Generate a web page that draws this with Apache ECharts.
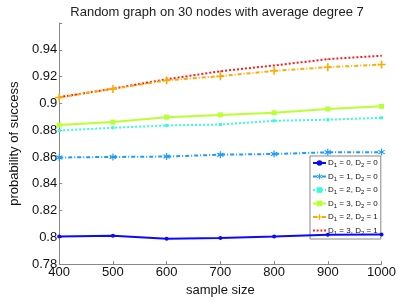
<!DOCTYPE html>
<html><head><meta charset="utf-8">
<script src="https://cdn.jsdelivr.net/npm/echarts@6/dist/echarts.min.js"></script>
<style>html,body{margin:0;padding:0;background:#fff}#c{width:399px;height:302px}</style>
</head><body><div id="c"></div>
<script>
const sampleSizes = [400, 500, 600, 700, 800, 900, 1000];
const yTicks = [0.78, 0.8, 0.82, 0.84, 0.86, 0.88, 0.9, 0.92, 0.94];
const d10d20 = [0.8006, 0.8011, 0.7990, 0.7994, 0.8006, 0.8020, 0.8021];
const d11d20 = [0.8596, 0.8600, 0.8603, 0.8617, 0.8622, 0.8635, 0.8636];
const d12d20 = [0.8797, 0.8818, 0.8835, 0.8842, 0.8870, 0.8878, 0.8892];
const d13d20 = [0.8838, 0.8860, 0.8897, 0.8914, 0.8930, 0.8958, 0.8978];
const d12d21 = [0.9044, 0.9108, 0.9172, 0.9203, 0.9243, 0.9270, 0.9290];
const d13d21 = [0.9046, 0.9110, 0.9180, 0.9240, 0.9283, 0.9330, 0.9356];
const names = ['D{s|1} = 0, D{s|2} = 0','D{s|1} = 1, D{s|2} = 0','D{s|1} = 2, D{s|2} = 0','D{s|1} = 3, D{s|2} = 0','D{s|1} = 2, D{s|2} = 1','D{s|1} = 3, D{s|2} = 1'];
const seriesData = [d10d20, d11d20, d12d20, d13d20, d12d21, d13d21];
const plus = 'path://M-1,-5 L1,-5 L1,-1 L5,-1 L5,1 L1,1 L1,5 L-1,5 L-1,1 L-5,1 L-5,-1 L-1,-1 Z';
const star = 'path://M-0.8,-5 L0.8,-5 L0.8,-1.4 L4,-3.2 L4.8,-1.8 L1.6,0 L4.8,1.8 L4,3.2 L0.8,1.4 L0.8,5 L-0.8,5 L-0.8,1.4 L-4,3.2 L-4.8,1.8 L-1.6,0 L-4.8,-1.8 L-4,-3.2 L-0.8,-1.4 Z';
const dots = 'path://M0,0 L2,0 L2,2 L0,2 Z M4,0 L6,0 L6,2 L4,2 Z M8,0 L10,0 L10,2 L8,2 Z M12,0 L14,0 L14,2 L12,2 Z';
const styles = [
  {color:'#0a0aff', type:'solid', symbol:'circle', size:4},
  {color:'#1e9bff', type:[4,2,1,2], symbol:star, size:7},
  {color:'#33ffd6', type:[2,2], symbol:'rect', size:3},
  {color:'#b8ff33', type:'solid', symbol:'rect', size:5},
  {color:'#ffaa00', type:[4,2,1,2], symbol:plus, size:8},
  {color:'#ff1a1a', type:[2,2], symbol:'rect', size:1}
];
const font = 'Liberation Sans';
const chart = echarts.init(document.getElementById('c'), null, {renderer:'canvas'});
chart.setOption({
  animation:false,
  title:{text:'Random graph on 30 nodes with average degree 7', left:212, textAlign:'center', top:1,
    textStyle:{fontFamily:font, fontSize:13, fontWeight:'normal', color:'#222'}},
  grid:{left:41, right:16, top:23, bottom:34.5},
  xAxis:{type:'value', min:400, max:1000, interval:100, name:'sample size', nameLocation:'middle', nameGap:16,
    nameTextStyle:{fontFamily:font, fontSize:13, color:'#111'},
    axisLine:{lineStyle:{color:'#888', width:1}}, axisTick:{inside:true, length:3, lineStyle:{color:'#888'}},
    axisLabel:{fontFamily:font, fontSize:13, color:'#111', margin:2, formatter:v=>String(v)}, splitLine:{show:false}},
  yAxis:{type:'value', min:0.78, max:0.96, interval:0.02, name:'probability of success', nameLocation:'middle', nameGap:32,
    nameTextStyle:{fontFamily:font, fontSize:13, color:'#111'},
    axisLine:{show:true, lineStyle:{color:'#888', width:1}}, axisTick:{show:true, inside:true, length:3, lineStyle:{color:'#888'}},
    axisLabel:{fontFamily:font, fontSize:13, color:'#111', margin:2,
      formatter:v=>{const r=+v.toFixed(2); return yTicks.some(t=>Math.abs(t-r)<1e-6)? String(r):'';}},
    splitLine:{show:false}},
  legend:{orient:'vertical', left:310, top:156, width:63, itemWidth:13, itemHeight:7, itemGap:4,
    padding:[3,3,3,2], backgroundColor:'#fff', borderColor:'#888', borderWidth:1,
    textStyle:{fontFamily:font, fontSize:8, color:'#111', padding:[0,0,0,-3], rich:{s:{fontSize:6, verticalAlign:'bottom', padding:[5,0,0,0], fontFamily:font}}},
    data:names.map((n,i)=>(i===5 ? {name:n, icon:dots, itemStyle:{color:styles[i].color}} : {name:n, itemStyle:{color:styles[i].color}}))},
  series:seriesData.map((d,i)=>({
    type:'line', name:names[i], data:sampleSizes.map((x,j)=>[x,d[j]]),
    symbol:styles[i].symbol, symbolSize:styles[i].size, showSymbol:true,
    lineStyle:{color:styles[i].color, width:2, type:styles[i].type},
    itemStyle:{color:styles[i].color}, z:10-i
  }))
});
</script></body></html>
